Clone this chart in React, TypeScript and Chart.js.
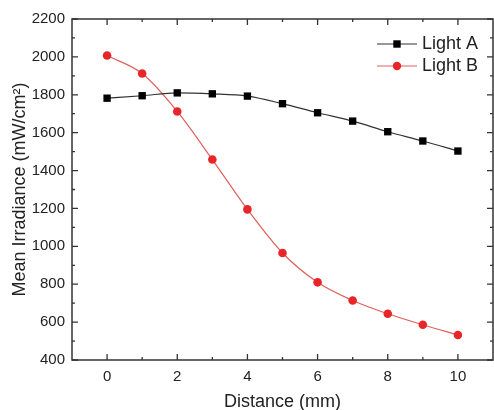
import React, { useEffect, useRef } from "react";
import { Chart, registerables } from "chart.js";

Chart.register(...registerables);

const distances = [0, 1, 2, 3, 4, 5, 6, 7, 8, 9, 10];
const lightA = [1782, 1795, 1810, 1805, 1793, 1753, 1705, 1661, 1605, 1556, 1503];
const lightB = [2007, 1912, 1712, 1458, 1195, 965, 810, 714, 644, 586, 532];
const seriesLabels = ["Light A", "Light B"];
const xTickLabels = [0, 2, 4, 6, 8, 10];
const xMinorTicks = [1, 3, 5, 7, 9];
const yMinorTicks = [500, 700, 900, 1100, 1300, 1500, 1700, 1900, 2100];

const FONT = "'Liberation Sans', Arial, sans-serif";
const TEXT = "#222";
const AXIS = "#333";

const framePlugin = {
  id: "frame",
  afterDraw(chart: any) {
    const { ctx, chartArea: a, scales } = chart;
    const xs = scales.x;
    const ys = scales.y;
    ctx.save();
    ctx.strokeStyle = AXIS;
    ctx.lineWidth = 1.5;
    ctx.strokeRect(a.left, a.top, a.right - a.left, a.bottom - a.top);
    ctx.lineWidth = 1.3;
    const major = 6;
    const minor = 3;
    ctx.beginPath();
    xTickLabels.forEach((v) => {
      const p = xs.getPixelForValue(v);
      ctx.moveTo(p, a.bottom); ctx.lineTo(p, a.bottom - major);
      ctx.moveTo(p, a.top); ctx.lineTo(p, a.top + major);
    });
    xMinorTicks.forEach((v) => {
      const p = xs.getPixelForValue(v);
      ctx.moveTo(p, a.bottom); ctx.lineTo(p, a.bottom - minor);
      ctx.moveTo(p, a.top); ctx.lineTo(p, a.top + minor);
    });
    ys.ticks.forEach((t: any) => {
      const p = ys.getPixelForValue(t.value);
      ctx.moveTo(a.left, p); ctx.lineTo(a.left + major, p);
      ctx.moveTo(a.right, p); ctx.lineTo(a.right - major, p);
    });
    yMinorTicks.forEach((v) => {
      const p = ys.getPixelForValue(v);
      ctx.moveTo(a.left, p); ctx.lineTo(a.left + minor, p);
      ctx.moveTo(a.right, p); ctx.lineTo(a.right - minor, p);
    });
    ctx.stroke();

    // legend
    const lx = a.right - 116;
    const ly = a.top + 25;
    chart.data.datasets.forEach((ds: any, i: number) => {
      const y = ly + i * 22;
      ctx.strokeStyle = ds.borderColor;
      ctx.lineWidth = 1.2;
      ctx.beginPath();
      ctx.moveTo(lx, y);
      ctx.lineTo(lx + 40, y);
      ctx.stroke();
      ctx.fillStyle = ds.pointBackgroundColor;
      if (ds.pointStyle === "rect") {
        ctx.fillRect(lx + 20 - 3.7, y - 3.7, 7.4, 7.4);
      } else {
        ctx.beginPath();
        ctx.arc(lx + 20, y, 4.2, 0, Math.PI * 2);
        ctx.fill();
      }
      ctx.fillStyle = TEXT;
      ctx.font = `18px ${FONT}`;
      ctx.textBaseline = "middle";
      ctx.textAlign = "left";
      ctx.fillText(ds.label, lx + 45, y);
    });
    ctx.restore();
  },
};

export default function App() {
  const ref = useRef<HTMLCanvasElement>(null);
  useEffect(() => {
    document.body.style.margin = "0";
    const chart = new Chart(ref.current!, {
      type: "line",
      data: {
        labels: distances,
        datasets: [
          {
            label: seriesLabels[0],
            data: distances.map((d, i) => ({ x: d, y: lightA[i] })),
            borderColor: "#333333",
            borderWidth: 1.2,
            pointStyle: "rect",
            pointRadius: 5.2,
            pointBackgroundColor: "#000000",
            pointBorderColor: "#000000",
            pointBorderWidth: 0,
            cubicInterpolationMode: "monotone",
          },
          {
            label: seriesLabels[1],
            data: distances.map((d, i) => ({ x: d, y: lightB[i] })),
            borderColor: "#e0605a",
            borderWidth: 1.2,
            pointStyle: "circle",
            pointRadius: 4.3,
            pointBackgroundColor: "#e8262a",
            pointBorderColor: "#e8262a",
            pointBorderWidth: 0,
            cubicInterpolationMode: "monotone",
          },
        ],
      } as any,
      options: {
        animation: false,
        responsive: false,
        layout: { autoPadding: false, padding: { top: 19, right: 1, left: 0, bottom: 0 } },
        plugins: { legend: { display: false }, tooltip: { enabled: false } },
        scales: {
          x: {
            type: "linear",
            min: -1,
            max: 11,
            grid: { display: false, drawTicks: false },
            border: { display: false },
            ticks: {
              stepSize: 1,
              autoSkip: false,
              maxRotation: 0,
              padding: 8,
              color: TEXT,
              font: { size: 15, family: FONT },
              callback: (v: any) => (xTickLabels.includes(v) ? String(v) : ""),
            },
            title: {
              display: true,
              text: "Distance (mm)",
              color: TEXT,
              font: { size: 18, family: FONT, lineHeight: 1 },
              padding: { top: 0, bottom: -1 },
            },
            afterFit: (s: any) => {
              s.height = 50;
              s.paddingLeft = 0;
              s.paddingRight = 0;
            },
          },
          y: {
            min: 400,
            max: 2200,
            grid: { display: false, drawTicks: false },
            border: { display: false },
            ticks: {
              stepSize: 200,
              padding: 7,
              color: TEXT,
              font: { size: 15, family: FONT },
              callback: (v: any) => String(v),
            },
            title: {
              display: true,
              text: "Mean Irradiance (mW/cm²)",
              color: TEXT,
              font: { size: 18, family: FONT, lineHeight: 1 },
              padding: { top: 11, bottom: 0 },
            },
            afterFit: (s: any) => {
              s.width = 72;
              s.paddingTop = 0;
              s.paddingBottom = 0;
            },
          },
        },
      } as any,
      plugins: [framePlugin],
    });
    return () => chart.destroy();
  }, []);
  return (
    <div style={{ width: 494, height: 410 }}>
      <canvas ref={ref} width={494} height={410} style={{ display: "block" }} />
    </div>
  );
}
